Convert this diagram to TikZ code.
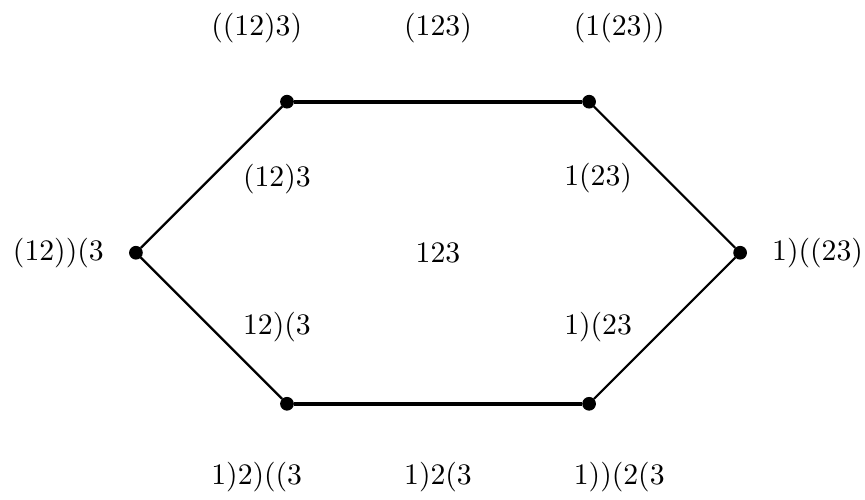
\documentclass[tikz,border=0pt]{standalone}
\usepackage{amsmath,amssymb}
\usepackage{tikz}
\usetikzlibrary{positioning,calc}
\tikzset{
  vertexdot/.style={circle,fill=black,draw=black,inner sep=0pt,minimum size=4.2pt},
  thinedge/.style={line width=0.75pt},
  boldedge/.style={line width=1.3pt},
  bracketlabel/.style={inner sep=1pt,font=\normalsize}
}

\begin{document}
\begin{tikzpicture}[x=1.19cm,y=1.19cm]
  \useasboundingbox (-4.35,-2.45) rectangle (4.24,2.51);
  % corners of the hexagon
  \node[vertexdot] (tl) at (-1.5,1.5) {};
  \node[vertexdot] (tr) at (1.5,1.5) {};
  \node[vertexdot] (rr) at (3,0) {};
  \node[vertexdot] (br) at (1.5,-1.5) {};
  \node[vertexdot] (bl) at (-1.5,-1.5) {};
  \node[vertexdot] (ll) at (-3,0) {};
  \draw[boldedge] (tl) -- (tr);
  \draw[boldedge] (bl) -- (br);
  \draw[thinedge] (ll) -- (tl);
  \draw[thinedge] (tr) -- (rr);
  \draw[thinedge] (rr) -- (br);
  \draw[thinedge] (bl) -- (ll);
  % outer labels
  \node[bracketlabel] (ttl) at (-1.8,2.23) {$((12)3)$};
  \node[bracketlabel] (ttm) at (0,2.23) {$(123)$};
  \node[bracketlabel] (ttr) at (1.8,2.23) {$(1(23))$};
  \node[bracketlabel] (bbl) at (-1.8,-2.23) {$1)2)((3$};
  \node[bracketlabel] (bbm) at (0,-2.23) {$1)2(3$};
  \node[bracketlabel] (bbr) at (1.8,-2.23) {$1))(2(3$};
  \node[bracketlabel] (lll) at (-3.77,0) {$(12))(3$};
  \node[bracketlabel] (rrr) at (3.77,0) {$1)((23)$};
  % inner labels
  \node[bracketlabel] (itl) at (-1.6,0.73) {$(12)3$};
  \node[bracketlabel] (itr) at (1.59,0.74) {$1(23)$};
  \node[bracketlabel] (ibl) at (-1.6,-0.74) {$12)(3$};
  \node[bracketlabel] (ibr) at (1.59,-0.74) {$1)(23$};
  \node[bracketlabel] (mid) at (0,0) {$123$};
\end{tikzpicture}
\end{document}
